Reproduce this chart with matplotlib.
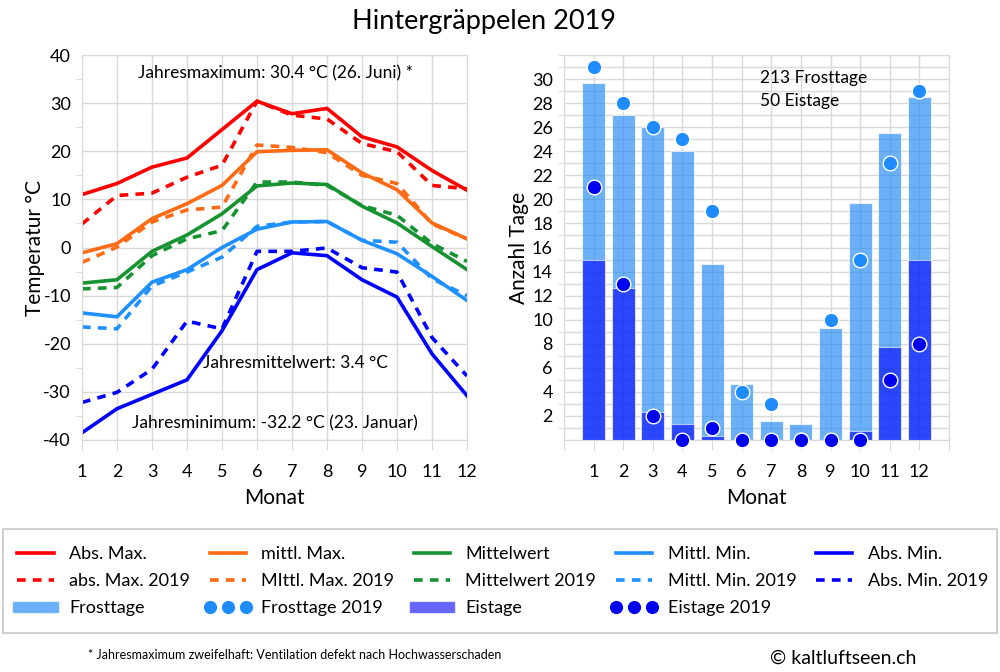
import numpy as np
import matplotlib
matplotlib.use("Agg")
import matplotlib.pyplot as plt
from matplotlib.patches import Rectangle

plt.rcParams["font.family"] = ["Lato", "DejaVu Sans"]
plt.rcParams["axes.unicode_minus"] = False

# -------------------------
# Data
# -------------------------
months = np.arange(1, 13)

abs_max = [11.0, 13.3, 16.7, 18.6, 24.5, 30.4, 27.8, 28.9, 23.0, 20.9, 16.0, 11.9]
abs_max_2019 = [4.9, 10.8, 11.3, 14.6, 17.1, 30.4, 27.5, 26.7, 21.6, 19.9, 12.9, 12.2]
mittl_max = [-1.1, 0.8, 6.0, 9.1, 12.9, 19.9, 20.2, 20.3, 15.5, 12.0, 5.1, 1.8]
mittl_max_2019 = [-3.1, 0.1, 5.3, 7.8, 8.4, 21.3, 20.8, 19.7, 15.0, 13.3, 4.9, 1.8]
mittel = [-7.4, -6.7, -0.8, 2.6, 7.0, 12.8, 13.4, 13.1, 8.6, 5.1, 0.2, -4.6]
mittel_2019 = [-8.6, -8.3, -1.7, 1.8, 3.5, 13.6, 13.6, 12.9, 8.7, 6.7, 0.8, -2.9]
mittl_min = [-13.6, -14.4, -7.2, -4.6, 0.0, 3.8, 5.3, 5.4, 1.5, -1.3, -6.0, -11.0]
mittl_min_2019 = [-16.5, -16.9, -8.0, -5.1, -2.0, 4.4, 5.3, 5.4, 1.5, 1.1, -6.5, -10.0]
abs_min = [-38.5, -33.5, -30.5, -27.5, -17.3, -4.6, -1.1, -1.7, -6.7, -10.3, -22.1, -30.8]
abs_min_2019 = [-32.2, -30.1, -25.3, -15.3, -16.9, -0.8, -0.8, -0.1, -4.2, -5.1, -18.7, -26.7]

frost_avg = [29.7, 27.0, 26.0, 24.0, 14.6, 4.65, 1.6, 1.3, 9.3, 19.7, 25.5, 28.5]
eis_avg = [15.0, 12.6, 2.35, 1.3, 0.3, 0, 0, 0, 0, 0.75, 7.7, 15.0]
frost_2019 = [31, 28, 26, 25, 19, 4, 3, 0, 10, 15, 23, 29]
eis_2019 = [21, 13, 2, 0, 1, 0, 0, 0, 0, 0, 5, 8]

# -------------------------
# Styles
# -------------------------
RED = "#ff0000"
ORANGE = "#ff6a14"
GREEN = "#179230"
LBLUE = "#1e90ff"
DBLUE = "#0000ff"
GRID = "#d9d9d9"
LW = 2.6
DASH = (2.4, 2.0)

fig = plt.figure(figsize=(10, 6.72), dpi=100)
ax1 = fig.add_axes([0.082, 1 - 440 / 672, 0.385, 385 / 672])
ax2 = fig.add_axes([0.564, 1 - 440 / 672, 0.385, 385 / 672])

fig.text(0.484, 1 - 22 / 672, "Hintergräppelen 2019", ha="center", va="center",
         fontsize=19.5)

# -------------------------
# Left: temperatures
# -------------------------
series = [
    ("Abs. Max.", "abs. Max. 2019", abs_max, abs_max_2019, RED),
    ("mittl. Max.", "MIttl. Max. 2019", mittl_max, mittl_max_2019, ORANGE),
    ("Mittelwert", "Mittelwert 2019", mittel, mittel_2019, GREEN),
    ("Mittl. Min.", "Mittl. Min. 2019", mittl_min, mittl_min_2019, LBLUE),
    ("Abs. Min.", "Abs. Min. 2019", abs_min, abs_min_2019, DBLUE),
]

solid_handles = []
dash_handles = []
for name, name19, vals, vals19, col in series:
    d, = ax1.plot(months, vals19, color=col, lw=LW, dashes=DASH, label=name19,
                  dash_capstyle="butt")
    s, = ax1.plot(months, vals, color=col, lw=LW, label=name)
    solid_handles.append(s)
    dash_handles.append(d)

ax1.set_xlim(1, 12)
ax1.set_ylim(-40, 40)
ax1.set_xticks(months)
ax1.set_yticks(np.arange(-40, 41, 10))
ax1.set_yticks(np.arange(-35, 40, 10), minor=True)
ax1.grid(True, color=GRID, lw=1)
ax1.set_axisbelow(True)
ax1.tick_params(axis="x", length=7, color=GRID, pad=10, labelsize=13)
ax1.tick_params(axis="y", which="major", length=0, pad=8, labelsize=13)
ax1.tick_params(axis="y", which="minor", length=4, color=GRID)
ax1.set_xlabel("Monat", fontsize=15, labelpad=6)
ax1.set_ylabel("Temperatur °C", fontsize=15, labelpad=-1)

ax1.text(6.54, 36.2, "Jahresmaximum: 30.4 °C (26. Juni) *", ha="center",
         va="center", fontsize=12.5)
ax1.text(7.11, -23.9, "Jahresmittelwert: 3.4 °C", ha="center", va="center",
         fontsize=12.5)
ax1.text(6.51, -36.6, "Jahresminimum: -32.2 °C (23. Januar)", ha="center",
         va="center", fontsize=12.5)

# -------------------------
# Right: frost / ice days
# -------------------------
frost_bars = ax2.bar(months, frost_avg, width=0.78, color="#1e88f5", alpha=0.65,
                     edgecolor="white", lw=0.8, label="Frosttage", zorder=2)
eis_bars = ax2.bar(months, eis_avg, width=0.78, color="#0000ff", alpha=0.6,
                   edgecolor="white", lw=0.8, label="Eistage", zorder=3)
frost_dots, = ax2.plot(months, frost_2019, "o", color="#1e8cff", ms=10.5,
                       mec="white", mew=1, ls="none", label="Frosttage 2019",
                       zorder=4, clip_on=False)
eis_dots, = ax2.plot(months, eis_2019, "o", color="#0000f0", ms=10.5,
                     mec="white", mew=1, ls="none", label="Eistage 2019",
                     zorder=5, clip_on=False)

ax2.set_xlim(0, 13)
ax2.set_ylim(0, 32)
ax2.set_xticks(np.arange(0, 14))
ax2.set_xticklabels([""] + [str(m) for m in months] + [""])
ax2.set_yticks(np.arange(0, 31, 2))
ax2.set_yticklabels([""] + [str(v) for v in range(2, 31, 2)])
ax2.set_yticks(np.arange(1, 33, 1), minor=True)
ax2.grid(True, which="both", axis="y", color=GRID, lw=1)
ax2.grid(True, which="major", axis="x", color=GRID, lw=1)
ax2.set_axisbelow(True)
ax2.tick_params(axis="x", length=7, color=GRID, pad=10, labelsize=13)
ax2.tick_params(axis="y", which="major", length=0, pad=8, labelsize=13)
ax2.tick_params(axis="y", which="minor", length=4, color=GRID)
ax2.set_xlabel("Monat", fontsize=15, labelpad=6)
ax2.set_ylabel("Anzahl Tage", fontsize=15, labelpad=2)

ax2.text(6.62, 30.1, "213 Frosttage", ha="left", va="center", fontsize=12.5)
ax2.text(6.62, 28.2, "50 Eistage", ha="left", va="center", fontsize=12.5)

for ax in (ax1, ax2):
    for sp in ax.spines.values():
        sp.set_color(GRID)

# -------------------------
# Legend (column-major order)
# -------------------------
handles = [
    solid_handles[0], dash_handles[0], frost_bars,
    solid_handles[1], dash_handles[1], frost_dots,
    solid_handles[2], dash_handles[2], eis_bars,
    solid_handles[3], dash_handles[3], eis_dots,
    solid_handles[4], dash_handles[4],
]
labels = [h.get_label() for h in handles]

fig.legend(handles, labels, loc="upper left",
           bbox_to_anchor=(0.003, 1 - 537 / 672, 0.994, 0),
           mode="expand", ncol=5, borderaxespad=0, fontsize=13,
           handlelength=2.6, handletextpad=0.55, labelspacing=0.62,
           borderpad=0.5, numpoints=3, frameon=False)

# legend box
fig.patches.append(Rectangle((0.003, 1 - 633 / 672), 0.994, 104 / 672,
                             transform=fig.transFigure, fill=False,
                             edgecolor="#c8c8c8", lw=1.2))

fig.text(0.088, 1 - 655 / 672,
         "* Jahresmaximum zweifelhaft: Ventilation defekt nach Hochwasserschaden",
         ha="left", va="center", fontsize=9,
         family=["Liberation Sans Narrow", "Lato", "DejaVu Sans"])
fig.text(0.77, 1 - 658 / 672, "© kaltluftseen.ch", ha="left", va="center",
         fontsize=14)

fig.savefig("out.png", dpi=100)
